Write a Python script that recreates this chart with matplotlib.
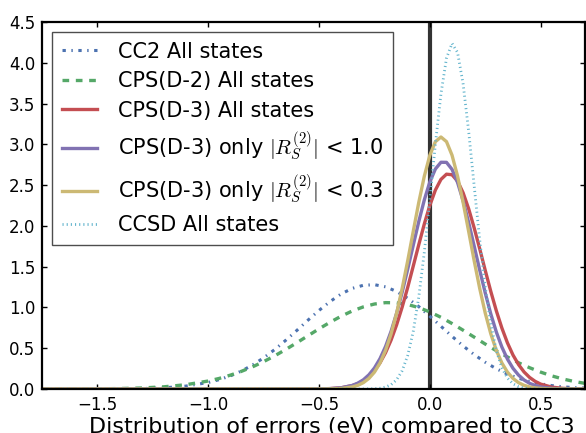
import matplotlib
matplotlib.use('Agg')
import matplotlib.pyplot as plt

plt.rcParams['lines.scale_dashes'] = False
plt.rcParams['mathtext.fontset'] = 'cm'
plt.rcParams['font.family'] = 'DejaVu Sans'

# wide curves (CC2, CPS(D-2))
wide_x = [-1.75, -1.5, -1.4, -1.3, -1.2, -1.1,
          -1.0, -0.95, -0.9, -0.85, -0.8, -0.75, -0.7, -0.65, -0.6, -0.55,
          -0.5, -0.45, -0.4, -0.35, -0.3, -0.25, -0.2, -0.15, -0.1, -0.05,
          0.0, 0.05, 0.1, 0.15, 0.2, 0.25, 0.3, 0.35, 0.4, 0.45,
          0.5, 0.55, 0.6, 0.65, 0.7]
cc2_y = [0.000, 0.0005, 0.0017, 0.0052, 0.0144, 0.036,
         0.080, 0.115, 0.161, 0.221, 0.294, 0.382, 0.484, 0.598, 0.719, 0.844,
         0.964, 1.073, 1.166, 1.234, 1.272, 1.279, 1.253, 1.196, 1.113, 1.010,
         0.892, 0.769, 0.646, 0.528, 0.422, 0.328, 0.248, 0.183, 0.132, 0.093,
         0.063, 0.042, 0.027, 0.017, 0.011]
d2_y = [0.0002, 0.0022, 0.0055, 0.0126, 0.027, 0.053,
        0.098, 0.130, 0.170, 0.217, 0.272, 0.336, 0.407, 0.485, 0.568, 0.653,
        0.738, 0.819, 0.893, 0.957, 1.007, 1.042, 1.059, 1.057, 1.036, 0.998,
        0.945, 0.879, 0.803, 0.721, 0.636, 0.551, 0.469, 0.393, 0.322, 0.261,
        0.207, 0.161, 0.123, 0.093, 0.069]

# narrow curves (CPS(D-3) variants)
narrow_x = [-1.75, -0.5, -0.45, -0.4,
            -0.35, -0.325, -0.3, -0.275, -0.25, -0.225, -0.2, -0.175, -0.15, -0.125,
            -0.1, -0.075, -0.05, -0.025, 0.0, 0.025, 0.05, 0.075, 0.1, 0.125,
            0.15, 0.175, 0.2, 0.225, 0.25, 0.275, 0.3, 0.325, 0.35, 0.375,
            0.4, 0.425, 0.45, 0.475, 0.5,
            0.55, 0.6, 0.65, 0.7]
d3_y = [0.0, 0.0015, 0.005, 0.015,
        0.042, 0.066, 0.102, 0.154, 0.225, 0.321, 0.445, 0.600, 0.787, 1.004,
        1.246, 1.507, 1.770, 2.024, 2.253, 2.440, 2.570, 2.634, 2.627, 2.549,
        2.406, 2.210, 1.975, 1.718, 1.453, 1.196, 0.958, 0.747, 0.566, 0.417,
        0.300, 0.209, 0.142, 0.094, 0.060,
        0.023, 0.008, 0.0024, 0.0007]
d3_r10_y = [0.0, 0.0012, 0.0046, 0.015,
            0.044, 0.072, 0.113, 0.174, 0.258, 0.372, 0.521, 0.707, 0.930, 1.187,
            1.469, 1.763, 2.053, 2.319, 2.540, 2.698, 2.780, 2.779, 2.693, 2.532,
            2.309, 2.042, 1.752, 1.457, 1.176, 0.920, 0.698, 0.514, 0.367, 0.254,
            0.171, 0.111, 0.070, 0.043, 0.026,
            0.008, 0.0023, 0.0006, 0.0001]
d3_r03_y = [0.0, 0.0004, 0.0017, 0.007,
            0.025, 0.045, 0.078, 0.130, 0.207, 0.319, 0.473, 0.676, 0.930, 1.232,
            1.572, 1.933, 2.288, 2.610, 2.867, 3.033, 3.090, 3.033, 2.867, 2.610,
            2.288, 1.933, 1.572, 1.232, 0.930, 0.676, 0.473, 0.319, 0.207, 0.130,
            0.078, 0.045, 0.025, 0.014, 0.007,
            0.0017, 0.0004, 0.0001, 0.0]

ccsd_x = [-1.75, -0.3,
          -0.25, -0.225, -0.2, -0.175, -0.15, -0.125, -0.1, -0.075, -0.05, -0.025,
          0.0, 0.025, 0.05, 0.075, 0.1, 0.125, 0.15, 0.175, 0.2, 0.225,
          0.25, 0.275, 0.3, 0.325, 0.35, 0.375, 0.4, 0.425, 0.45,
          0.5, 0.55, 0.7]
ccsd_y = [0.0, 0.0004,
          0.0037, 0.0096, 0.0235, 0.053, 0.113, 0.224, 0.412, 0.706, 1.127, 1.678,
          2.326, 3.005, 3.617, 4.056, 4.238, 4.126, 3.742, 3.162, 2.489, 1.826,
          1.248, 0.795, 0.472, 0.261, 0.134, 0.064, 0.029, 0.012, 0.0047,
          0.0006, 0.0, 0.0]

labels = ['CC2 All states', 'CPS(D-2) All states', 'CPS(D-3) All states',
          r'CPS(D-3) only $|R_S^{(2)}|$ < 1.0',
          r'CPS(D-3) only $|R_S^{(2)}|$ < 0.3', 'CCSD All states']
xticks = [-1.5, -1.0, -0.5, 0.0, 0.5]
yticks = [0.0, 0.5, 1.0, 1.5, 2.0, 2.5, 3.0, 3.5, 4.0, 4.5]

fig = plt.figure(figsize=(5.86, 4.33), dpi=100)
ax = fig.add_axes([0.0717, 0.1016, 0.9266, 0.8476])

ax.axvline(0, color='#333333', lw=3, zorder=1.5)
ax.plot(wide_x, cc2_y, color='#4C72B0', lw=2.2, ls=(0, (2.4, 4, 1.0, 4)), label=labels[0])
ax.plot(wide_x, d2_y, color='#55A868', lw=2.4, ls=(0, (4.8, 4.8)), label=labels[1])
ax.plot(narrow_x, d3_y, color='#C44E52', lw=2.4, label=labels[2])
ax.plot(narrow_x, d3_r10_y, color='#8172B2', lw=2.4, label=labels[3])
ax.plot(narrow_x, d3_r03_y, color='#CCB974', lw=2.4, label=labels[4])
ax.plot(ccsd_x, ccsd_y, color='#64B5CD', lw=2.0, ls=(0, (0.8, 2.2)), label=labels[5])

ax.set_xlim(-1.75, 0.7)
ax.set_ylim(0, 4.5)
ax.set_xticks(xticks)
ax.set_yticks(yticks)
ax.tick_params(direction='in', top=True, right=True, length=3.5, width=1,
               labelsize=12, pad=5)
for s in ax.spines.values():
    s.set_linewidth(1.6)

ax.set_xlabel('Distribution of errors (eV) compared to CC3', fontsize=16)
ax.xaxis.set_label_coords(0.534, -0.076)

leg = ax.legend(loc='upper left', fontsize=15, fancybox=False, framealpha=1,
                edgecolor='0.3', borderpad=0.45, labelspacing=0.45,
                handlelength=1.7, handletextpad=1.0, borderaxespad=0.5)
leg.get_frame().set_linewidth(1.0)

fig.savefig('out.png', dpi=100)
